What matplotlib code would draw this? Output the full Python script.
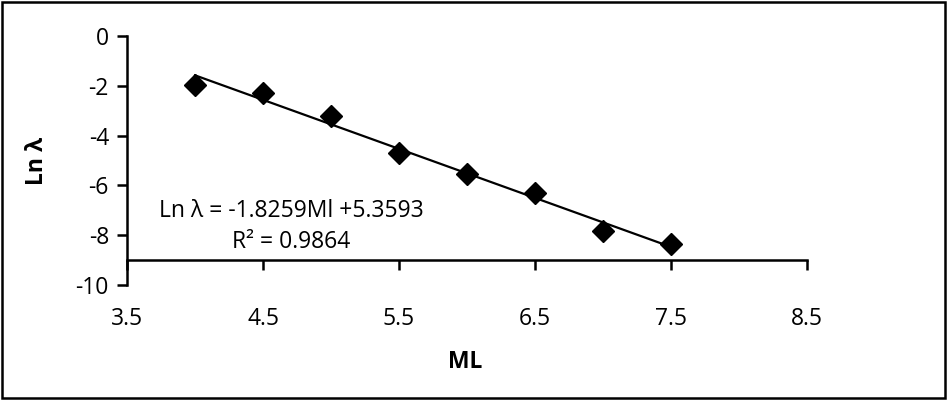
import numpy as np
import matplotlib
matplotlib.use("Agg")
import matplotlib.pyplot as plt
from matplotlib.patches import Rectangle

# valores
ml = [4.0, 4.5, 5.0, 5.5, 6.0, 6.5, 7.0, 7.5]
ln_lambda = [-1.95, -2.3, -3.2, -4.7, -5.55, -6.3, -7.85, -8.35]
x_ticks = [3.5, 4.5, 5.5, 6.5, 7.5, 8.5]
y_ticks = [0, -2, -4, -6, -8, -10]
equacao = "Ln λ = -1.8259Ml +5.3593"
r2 = "R² = 0.9864"

plt.rcParams['font.family'] = ['Open Sans', 'DejaVu Sans']
plt.rcParams['axes.unicode_minus'] = False
fs = 16.5

fig = plt.figure(figsize=(9.47, 4.0), dpi=100)
ax = fig.add_axes([127 / 947, 1 - 285 / 400, 680 / 947, 249 / 400])

ax.plot(ml, ln_lambda, 'D', color='black', markersize=11, zorder=3)

# linha de tendência
a, b = np.polyfit(ml, ln_lambda, 1)
xs = np.array([min(ml), max(ml)])
ax.plot(xs, a * xs + b, color='black', lw=1.6)

ax.set_xlim(3.5, 8.5)
ax.set_ylim(-10, 0)
ax.set_xticks(x_ticks)
ax.set_xticklabels([str(v) for v in x_ticks])
ax.set_yticks(y_ticks)

for s in ['top', 'right']:
    ax.spines[s].set_visible(False)
ax.spines['bottom'].set_position(('data', -9))
ax.spines['left'].set_linewidth(1.8)
ax.spines['bottom'].set_linewidth(1.8)
ax.tick_params(axis='x', direction='out', length=7, width=1.8, pad=27, labelsize=fs)
ax.tick_params(axis='y', direction='out', length=7, width=1.8, pad=6, labelsize=fs)

ax.set_ylabel('Ln λ', fontsize=fs, fontweight='bold')
ax.set_xlabel('ML', fontsize=fs, fontweight='bold')
ax.yaxis.set_label_coords(-0.115, 0.5)
ax.xaxis.set_label_coords(0.497, -0.262)

ax.text(4.71, -7.03, equacao, fontsize=fs, ha='center', va='center')
ax.text(4.71, -8.27, r2, fontsize=fs, ha='center', va='center')

fig.patches.append(Rectangle((0.002, 0.005), 0.996, 0.99, transform=fig.transFigure,
                             fill=False, edgecolor='black', lw=1.8))

fig.savefig('out.png', dpi=100)
